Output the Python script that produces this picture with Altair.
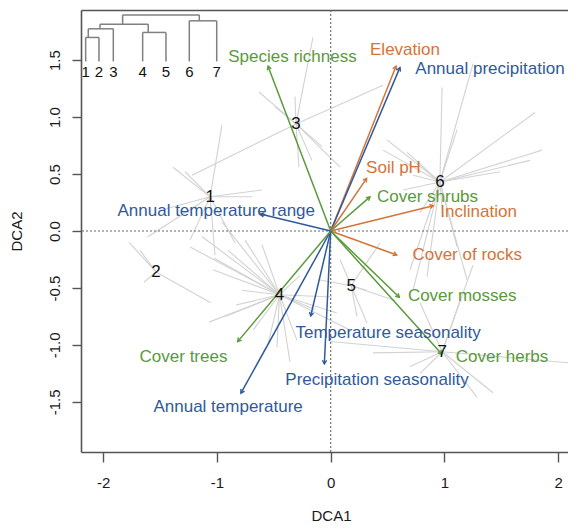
import math
import altair as alt
import numpy as np
import pandas as pd

FONT = "Liberation Sans"

# ---------------- data ----------------
# cluster centroids (DCA1, DCA2)
cluster_ids = ["1", "2", "3", "4", "5", "6", "7"]
cluster_x = [-1.06, -1.535, -0.305, -0.45, 0.18, 0.96, 0.98]
cluster_y = [0.30, -0.36, 0.94, -0.56, -0.48, 0.43, -1.06]

# site scores of each cluster (ends of the spider lines)
c1_sx = [-0.956, -1.386, -1.281, -0.692, -1.607, -1.237, -0.841, -0.604, -1.501, -1.017]
c1_sy = [0.93, 0.56, 0.52, 0.30, -0.05, -0.08, -0.105, 0.36, 0.18, -0.21]
c2_sx = [-1.772, -1.055, -1.642, -1.676]
c2_sy = [-0.10, -0.63, -0.45, -0.17]
c3_sx = [-1.219, -0.630, -0.490, -0.156, -0.279, -0.165, -0.076, 0.460, 0.082, -0.314]
c3_sy = [0.49, 1.22, 1.09, 1.70, 0.56, 0.62, 0.74, 1.28, 0.56, 1.18]
c4_sx = [-1.130, -1.024, -1.236, -0.903, -0.753, -0.604, -1.070, -0.929, -0.780,
         -0.552, -0.296, -0.138, 0.011, -0.270, -0.833,
         -1.035, -0.956, -0.683, -0.472, 0.054, 0.169, -0.358]
c4_sy = [-0.05, -0.24, -0.14, -0.17, -0.08, -0.12, -0.80, -0.75, -0.52,
         -1.00, -0.96, -0.69, -0.58, -0.39, -0.65,
         -0.34, 0.08, -0.87, -1.02, -0.72, -0.87, -1.15]
c5_sx = [0.319, -0.094, 0.231, 0.319, 0.433, 0.082, 0.565]
c5_sy = [-0.52, -0.43, -0.75, -0.81, -0.105, -0.25, -0.61]
c6_sx = [0.979, 1.251, 1.111, 1.797, 1.858, 1.753, 1.488, 0.495, 0.671, 0.724,
         0.785, 0.987, 0.636, 0.697, 1.199, 0.460, 0.724, 1.111, 0.847]
c6_sy = [1.26, 1.47, 0.89, 1.04, 0.71, 0.62, 0.52, 0.80, 0.69, 0.49,
         0.16, 0.12, 0.36, -0.34, -0.43, 0.71, -0.52, -0.14, -0.40]
c7_sx = [0.372, 0.785, 1.137, 1.251, 2.130, 1.427, 1.287, 0.785, 0.697, -0.006]
c7_sy = [-1.07, -0.63, -0.61, -0.30, -1.16, -1.42, -1.46, -1.25, -1.19, -0.97]

# fitted environmental variables (arrow ends) and label positions
var_names = ["Species richness", "Elevation", "Annual precipitation", "Soil pH",
             "Cover shrubs", "Inclination", "Cover of rocks", "Cover mosses",
             "Cover herbs", "Temperature seasonality", "Precipitation seasonality",
             "Annual temperature", "Cover trees", "Annual temperature range"]
var_group = ["biotic", "abiotic", "climate", "abiotic",
             "biotic", "abiotic", "abiotic", "biotic",
             "biotic", "climate", "climate",
             "climate", "biotic", "climate"]
var_x = [-0.551, 0.574, 0.609, 0.316, 0.345, 0.902, 0.580, 0.603,
         0.976, -0.176, -0.056, -0.789, -0.818, -0.619]
var_y = [1.447, 1.447, 1.436, 0.462, 0.300, 0.222, -0.210, -0.582,
         -1.080, -0.746, -1.167, -1.424, -0.971, 0.149]
lab_x = [-0.336, 0.653, 1.400, 0.552, 0.851, 1.300, 1.200, 1.156,
         1.506, 0.504, 0.407, -0.902, -1.294, -1.006]
lab_y = [1.526, 1.588, 1.418, 0.550, 0.300, 0.167, -0.210, -0.570,
         -1.105, -0.895, -1.307, -1.541, -1.105, 0.178]

group_domain = ["biotic", "abiotic", "climate"]
group_colors = ["#5a9a3a", "#d4733a", "#2f5a9b"]

# dendrogram of the clusters (drawn inside the plot, in DCA units)
leaf_x = [-2.154, -2.037, -1.911, -1.653, -1.448, -1.243, -1.002]
leaf_base = 1.489
leaf_label_y = 1.395
merge_children = [("1", "2"), ("a", "3"), ("4", "5"), ("b", "c"), ("6", "7"), ("d", "e")]
merge_names = ["a", "b", "c", "d", "e", "root"]
merge_height = [1.699, 1.775, 1.743, 1.816, 1.845, 1.897]
merge_x = [-2.131, -2.028, -1.604, -1.829, -1.155, -1.49]

# axis ranges
x_domain = [-2.195, 2.086]
y_domain = [-1.94, 1.94]
x_ticks = [-2, -1, 0, 1, 2]
y_ticks = [-1.5, -1.0, -0.5, 0.0, 0.5, 1.0, 1.5]

# ---------------- frames ----------------
site_sets = [(c1_sx, c1_sy), (c2_sx, c2_sy), (c3_sx, c3_sy), (c4_sx, c4_sy),
             (c5_sx, c5_sy), (c6_sx, c6_sy), (c7_sx, c7_sy)]
rows = []
for cid, cx, cy, (sx, sy) in zip(cluster_ids, cluster_x, cluster_y, site_sets):
    for a, b in zip(sx, sy):
        rows.append({"cluster": cid, "cx": cx, "cy": cy, "sx": a, "sy": b})
spider = pd.DataFrame(rows)

clusters = pd.DataFrame({"id": cluster_ids, "x": cluster_x, "y": cluster_y})

W, H = 487, 442
px_x = W / (x_domain[1] - x_domain[0])
px_y = H / (y_domain[1] - y_domain[0])
arrows = pd.DataFrame({"name": var_names, "group": var_group,
                       "ex": var_x, "ey": var_y, "lx": lab_x, "ly": lab_y})
arrows["ox"] = 0.0
arrows["oy"] = 0.0
arrows["angle"] = (np.degrees(np.arctan2(arrows["ex"] * px_x, arrows["ey"] * px_y)) + 360) % 360

# dendrogram segments
pos = {cid: (lx, leaf_base) for cid, lx in zip(cluster_ids, leaf_x)}
seg = []
for (l, r), name, h, nx in zip(merge_children, merge_names, merge_height, merge_x):
    lx, lh = pos[l]
    rx, rh = pos[r]
    seg.append({"x": lx, "y": lh, "x2": lx, "y2": h})
    seg.append({"x": rx, "y": rh, "x2": rx, "y2": h})
    seg.append({"x": lx, "y": h, "x2": rx, "y2": h})
    pos[name] = (nx, h)
dendro = pd.DataFrame(seg)
leaves = pd.DataFrame({"id": cluster_ids, "x": leaf_x, "y": [leaf_label_y] * len(leaf_x)})

# ---------------- chart ----------------
xs = alt.Scale(domain=x_domain, nice=False, zero=False)
ys = alt.Scale(domain=y_domain, nice=False, zero=False)
col = alt.Color("group:N", scale=alt.Scale(domain=group_domain, range=group_colors), legend=None)

axis_style = dict(domainColor="#555555", domainWidth=1.6, tickColor="#555555", tickWidth=1.4,
                  labelColor="#1a1a1a", labelFont=FONT, labelFontSize=15,
                  titleFont=FONT, titleFontSize=15, titleFontWeight="normal",
                  titleColor="#1a1a1a", grid=False)

bottom_axis = alt.Axis(orient="bottom", values=x_ticks, tickSize=10, labelPadding=13,
                       labelExpr="(datum.value < 0 ? '-' : '') + format(abs(datum.value), 'd')",
                       title="DCA1", titleX=250, titleY=56, titleBaseline="top",
                       titleAlign="center", labelFlush=False, **axis_style)
left_axis = alt.Axis(orient="left", values=y_ticks, tickSize=9, labelPadding=10,
                     labelAngle=-90, labelAlign="center", labelBaseline="bottom",
                     labelExpr="(datum.value < 0 ? '-' : '') + format(abs(datum.value), '.1f')",
                     title="DCA2", titleAngle=270, titleBaseline="bottom", titleAlign="center",
                     titleX=-57, titleY=221, labelFlush=False, **axis_style)
top_axis = alt.Axis(orient="top", ticks=False, labels=False, title=None,
                    domainColor="#555555", domainWidth=1.6, grid=False)

spider_layer = alt.Chart(spider).mark_rule(color="#d2d2d2", strokeWidth=1.1, clip=True).encode(
    x=alt.X("cx:Q", scale=xs, axis=top_axis),
    y=alt.Y("cy:Q", scale=ys, axis=left_axis),
    x2="sx:Q", y2="sy:Q")

zero_df = pd.DataFrame({"v": [0]})
vline = alt.Chart(zero_df).mark_rule(color="#666666", strokeDash=[2, 2], strokeWidth=1.1).encode(
    x=alt.X("v:Q", scale=xs, axis=bottom_axis))
hline = alt.Chart(zero_df).mark_rule(color="#666666", strokeDash=[2, 2], strokeWidth=1.1).encode(
    y=alt.Y("v:Q", scale=ys, axis=None))

arrow_lines = alt.Chart(arrows).mark_rule(strokeWidth=1.5).encode(
    x=alt.X("ox:Q", scale=xs, axis=None), y=alt.Y("oy:Q", scale=ys, axis=None),
    x2="ex:Q", y2="ey:Q", color=col)
arrow_heads = alt.Chart(arrows).mark_point(
    shape="M -0.5 0.866 L 0 0 L 0.5 0.866", filled=False, size=70, strokeWidth=1.4, opacity=1).encode(
    x=alt.X("ex:Q", scale=xs, axis=None), y=alt.Y("ey:Q", scale=ys, axis=None),
    angle=alt.Angle("angle:Q", scale=None), color=col)
arrow_labels = alt.Chart(arrows).mark_text(font=FONT, fontSize=17, align="center", baseline="middle").encode(
    x=alt.X("lx:Q", scale=xs, axis=None), y=alt.Y("ly:Q", scale=ys, axis=None),
    text="name:N", color=col)

cluster_labels = alt.Chart(clusters).mark_text(font=FONT, fontSize=17, color="#111111",
                                               align="center", baseline="middle").encode(
    x=alt.X("x:Q", scale=xs, axis=None), y=alt.Y("y:Q", scale=ys, axis=None), text="id:N")

dendro_layer = alt.Chart(dendro).mark_rule(color="#808080", strokeWidth=1.5).encode(
    x=alt.X("x:Q", scale=xs, axis=None), y=alt.Y("y:Q", scale=ys, axis=None),
    x2="x2:Q", y2="y2:Q")
leaf_labels = alt.Chart(leaves).mark_text(font=FONT, fontSize=15, color="#111111",
                                          align="center", baseline="middle").encode(
    x=alt.X("x:Q", scale=xs, axis=None), y=alt.Y("y:Q", scale=ys, axis=None), text="id:N")

chart = alt.layer(
    spider_layer, vline, hline, arrow_lines, arrow_heads, arrow_labels,
    cluster_labels, dendro_layer, leaf_labels
).resolve_axis(x="independent", y="independent").properties(
    width=W, height=H,
    autosize=alt.AutoSizeParams(type="none"),
    padding={"left": 73, "top": 2, "right": 0, "bottom": 70},
    background="white",
).configure_view(strokeWidth=0)

chart.save("out.html", embed_options={"renderer": "svg", "actions": False})
